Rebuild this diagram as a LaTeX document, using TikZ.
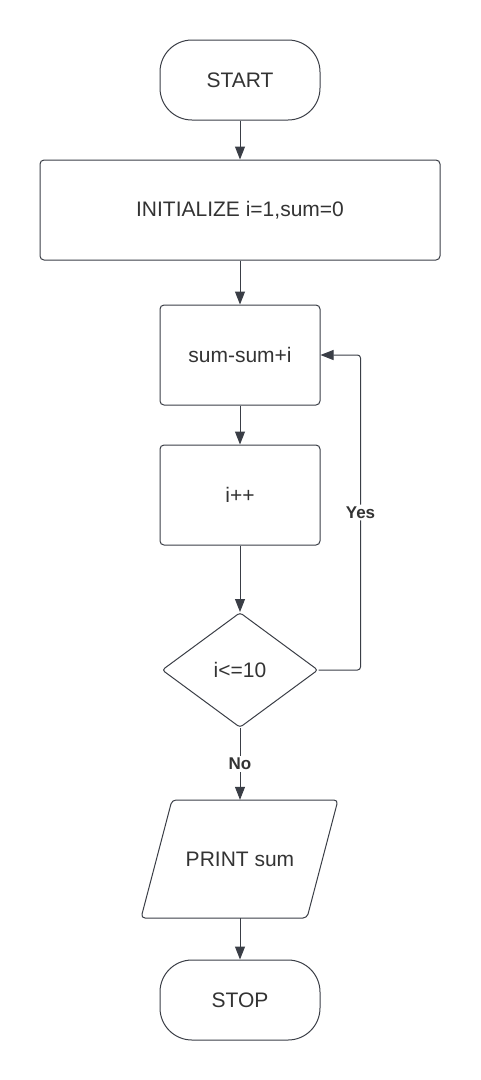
\documentclass[tikz,border=0pt]{standalone}
\usepackage{fontspec}
\setmainfont{Liberation Sans}
\usetikzlibrary{shapes.geometric, arrows.meta, positioning}
\definecolor{linecol}{RGB}{58, 62, 70}
\definecolor{textcol}{RGB}{51, 51, 51}

\tikzset{
  base/.style={draw=linecol, line width=1pt, text=textcol, font=\fontsize{21}{24}\selectfont, inner sep=0pt},
  terminal/.style={base, rectangle, rounded corners=32pt, minimum width=160pt, minimum height=80pt},
  process/.style={base, rectangle, rounded corners=4pt, minimum height=100pt},
  decision/.style={base, diamond, rounded corners=3pt, minimum width=156pt, minimum height=115pt},
  io/.style={text=textcol, font=\fontsize{21}{24}\selectfont, inner sep=0pt, minimum width=198pt, minimum height=118pt},
  flow/.style={draw=linecol, line width=1pt, -{Triangle[length=13pt,width=10pt]}},
  choice/.style={font=\bfseries\fontsize{17}{19}\selectfont, text=textcol, fill=white, inner sep=2pt}
}

\begin{document}
\begin{tikzpicture}[x=1pt, y=-1pt]
        \useasboundingbox (0,0) rectangle (480,1080);
        % boxes
        \node[terminal] (start) at (240,80) {START};
        \node[process, minimum width=400pt] (init) at (240,210) {INITIALIZE i=1,sum=0};
        \node[process, minimum width=160pt] (update) at (240,355) {sum-sum+i};
        \node[process, minimum width=160pt] (incr) at (240,495) {i++};
        \node[decision] (check) at (240,670) {i<=10};
        \node[io] (output) at (240,859) {PRINT sum};
        \draw[draw=linecol, line width=1pt, rounded corners=4pt] (172,800) -- (338,800) -- (307,918) -- (141,918) -- cycle;
        \node[terminal] (stop) at (240,1000) {STOP};
        % arrows
        \draw[flow] (start) -- (init);
        \draw[flow] (init) -- (update);
        \draw[flow] (update) -- (incr);
        \draw[flow] (incr) -- (check);
        \draw[flow] (check) -- node[choice] {No} (output);
        \draw[flow] (output) -- (stop);
        \draw[flow, rounded corners=3pt] (check.east) -- ++(42,0) |- node[choice, pos=0.25] {Yes} (update.east);
    \end{tikzpicture}
\end{document}
